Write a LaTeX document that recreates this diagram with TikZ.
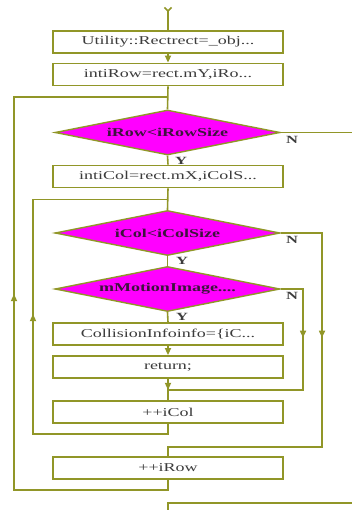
\documentclass[tikz,border=0pt]{standalone}
\usepackage{fontspec}
\usepackage{graphicx}
\setmainfont{Liberation Serif}
\usetikzlibrary{shapes.geometric,arrows.meta,decorations.markings,calc}
\definecolor{olv}{RGB}{145,150,40}
\definecolor{mag}{RGB}{255,0,255}
\definecolor{boxtxt}{RGB}{60,60,60}
\definecolor{dtxt}{RGB}{60,20,60}
\newcommand{\wtx}[1]{\scalebox{1.5}[1]{#1}}
\begin{document}
\begin{tikzpicture}[x=1pt,y=-1pt,
  line width=1.6pt, draw=olv,
  procbox/.style={draw=olv, line width=1.8pt, fill=white, minimum width=230pt, minimum height=22pt, inner sep=0pt, text=boxtxt, font=\fontsize{12}{14}\selectfont},
  decbox/.style={diamond, draw=olv, line width=1.4pt, fill=mag, minimum width=225pt, minimum height=45pt, inner sep=0pt, aspect=5, text=dtxt, font=\fontsize{12}{14}\selectfont\bfseries},
  yn/.style={text=boxtxt, font=\fontsize{11}{12}\selectfont\bfseries, inner sep=0pt},
  tip/.style={-{Triangle[length=7pt,width=6pt]}},
  midarrow/.style={postaction={decorate}, decoration={markings, mark=at position #1 with {\arrow{Triangle[length=7pt,width=6pt]}}}}
]
\useasboundingbox (0,0) rectangle (352,510);
% nodes
\node[procbox] (b1) at (168,42) {\wtx{Utility::Rectrect=\_obj...}};
\node[procbox] (b2) at (168,74.5) {\wtx{intiRow=rect.mY,iRo...}};
\node[decbox] (d1) at (167.5,132.5) {\wtx{iRow<iRowSize}};
\node[procbox] (b3) at (168,176.5) {\wtx{intiCol=rect.mX,iColS...}};
\node[decbox] (d2) at (167.5,233) {\wtx{iCol<iColSize}};
\node[decbox] (d3) at (167.5,289) {\wtx{mMotionImage....}};
\node[procbox] (b4) at (168,334) {\wtx{CollisionInfoinfo=\{iC...}};
\node[procbox] (b5) at (168,367) {\wtx{return;}};
\node[procbox] (b6) at (168,412) {\wtx{++iCol}};
\node[procbox] (b7) at (168,468) {\wtx{++iRow}};
% coordinates
\coordinate (top) at (168,11);
\coordinate (j1) at (168,97);
\coordinate (j2) at (168,199.5);
\coordinate (j3) at (168,390);
\coordinate (j4) at (168,447);
\coordinate (rexit) at (352,132.5);
\coordinate (bin) at (352,503);
\coordinate (bout) at (168,510);
% labels
\node[yn] (y1) at (181,161) {\wtx{Y}};
\node[yn] (n1) at (292,140) {\wtx{N}};
\node[yn] (y2) at (182,261) {\wtx{Y}};
\node[yn] (n2) at (292,240) {\wtx{N}};
\node[yn] (y3) at (182,317) {\wtx{Y}};
\node[yn] (n3) at (292,296) {\wtx{N}};
% connectors
\draw (top) -- (b1.north);
\draw ($(top)+(-3.5,-3.5)$) -- (top) -- ($(top)+(3.5,-3.5)$);
\draw[tip] (b1.south) -- (b2.north);
\draw (b2.south) -- (d1.north);
\draw (d1.south) -- (b3.north);
\draw (b3.south) -- (d2.north);
\draw (d2.south) -- (d3.north);
\draw (d3.south) -- (b4.north);
\draw[tip] (b4.south) -- (b5.north);
\draw[midarrow=11pt] (b5.south) -- (b6.north);
\draw (d1.east) -- (rexit);
\draw[midarrow=71pt] (d3.east) -- (303,289) -- (303,390) -- (j3);
\draw[midarrow=265pt] (b6.south) -- (168,434) -- (33,434) -- (33,199.5) -- (j2);
\draw[midarrow=146pt] (d2.east) -- (322,233) -- (322,447) -- (j4) -- (b7.north);
\draw[midarrow=360pt] (b7.south) -- (168,490) -- (14,490) -- (14,97) -- (j1);
\draw (bin) -- (168,503) -- (bout);
\end{tikzpicture}
\end{document}
